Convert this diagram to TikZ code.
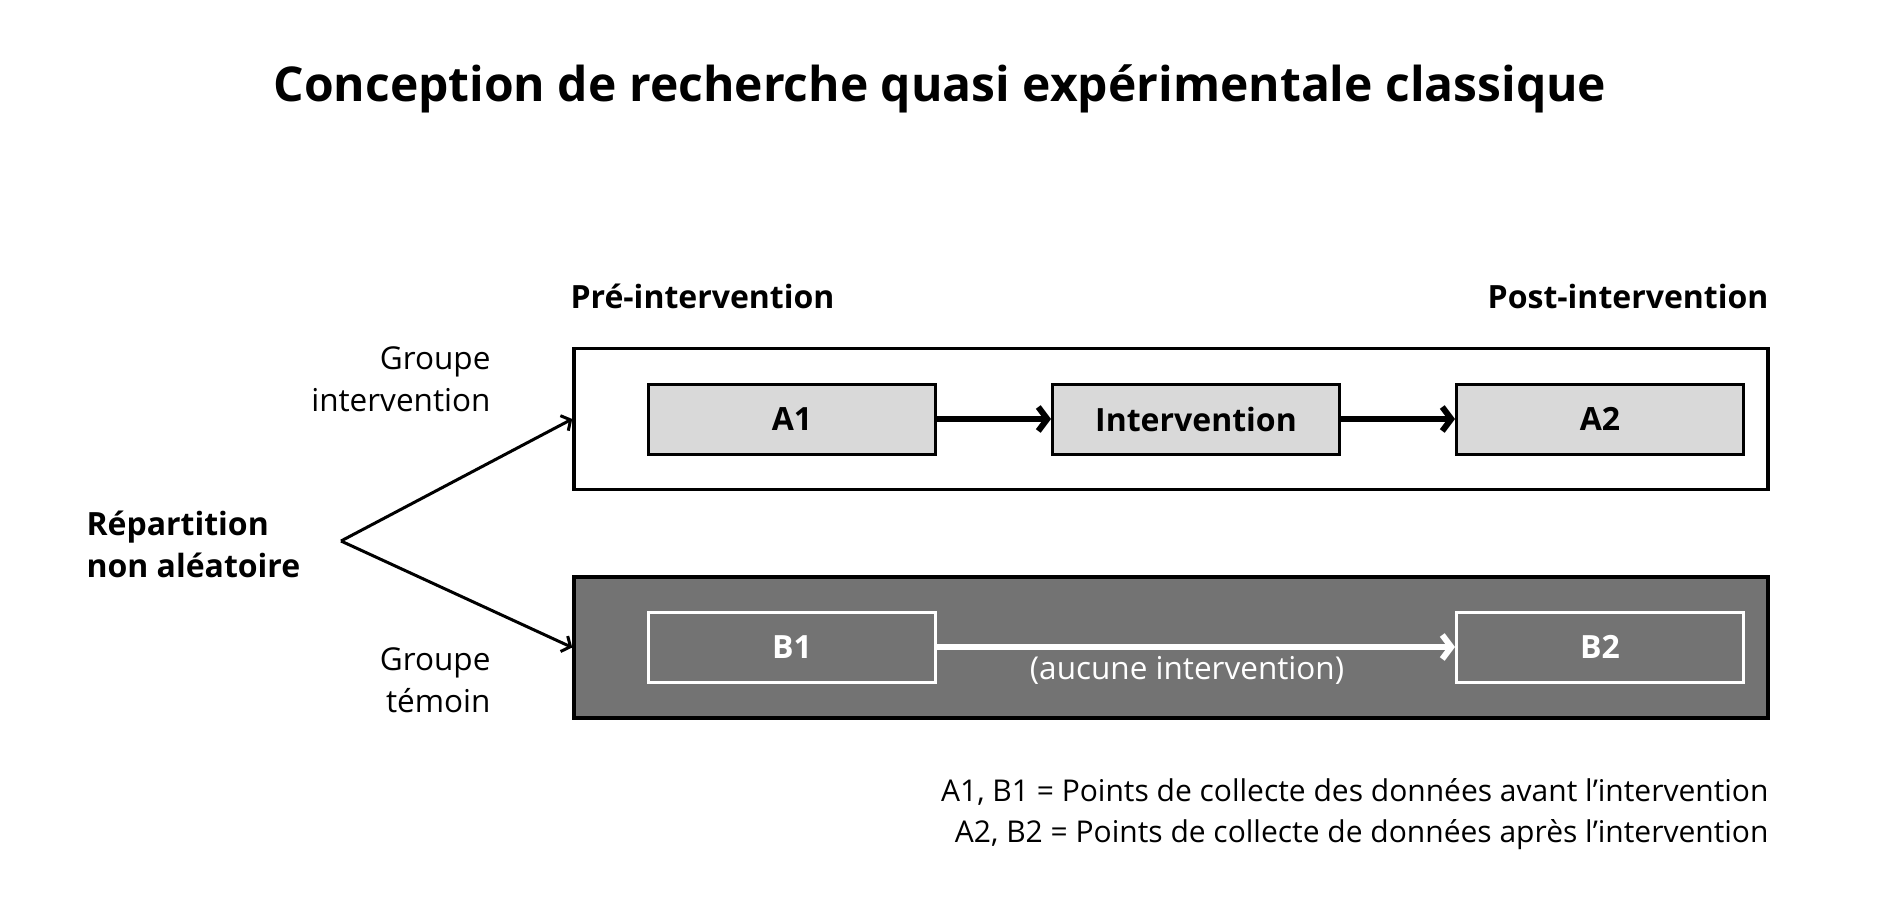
\documentclass[tikz,border=0pt]{standalone}
\usepackage{fontspec}
\setmainfont{Open Sans}
\usetikzlibrary{arrows.meta}
\usetikzlibrary{positioning}

\begin{document}
\begin{tikzpicture}[
    x=1pt, y=-1pt,
    every node/.style={color=black, font=\fontsize{31.5}{42}\selectfont},
    group box/.style={draw, line width=3.5pt, minimum width=1194pt, minimum height=141pt},
    data box/.style={draw, line width=3pt, minimum width=287pt, minimum height=70pt, font=\fontsize{32}{42}\selectfont\bfseries},
    big arrow/.style={line width=6pt, -{Straight Barb[length=9pt, width=24pt]}},
    split arrow/.style={line width=3pt, -{Straight Barb[length=7pt, width=17pt]}},
    side label/.style={align=right, anchor=east}
    ]

\newcommand{\lightgray}{black!15}
\newcommand{\darkgray}{black!55}

\useasboundingbox (0,0) rectangle (1878,905);

% title
\node[font=\fontsize{48}{56}\selectfont\bfseries] (title) at (940,89)
    {Conception de recherche quasi expérimentale classique};

% phases
\node[anchor=west, font=\fontsize{32}{42}\selectfont\bfseries] (pre) at (567,296) {Pré-intervention};
\node[anchor=east, font=\fontsize{32}{42}\selectfont\bfseries] (post) at (1772,296) {Post-intervention};

% group boxes
\node[group box, fill=white] (grpI) at (1171,419) {};
\node[group box, fill=\darkgray] (grpT) at (1171,647.5) {};

% intervention group
\node[data box, fill=\lightgray] (A1) at (792,419) {A1};
\node[data box, fill=\lightgray] (int) at (1196,419) {Intervention};
\node[data box, fill=\lightgray] (A2) at (1600,419) {A2};
\draw[big arrow] (A1) -- (int);
\draw[big arrow] (int) -- (A2);

% control group
\node[data box, draw=white, text=white] (B1) at (792,647) {B1};
\node[data box, draw=white, text=white] (B2) at (1600,647) {B2};
\draw[big arrow, white] (B1) -- (B2)
    node[midway, below=3pt, xshift=-9pt, text=white] (none) {(aucune intervention)};

% group labels
\node[side label] (lblI) at (494,379) {Groupe\\intervention};
\node[side label] (lblT) at (494,680) {Groupe\\témoin};

% assignment
\node[anchor=west, align=left, font=\fontsize{32}{42}\selectfont\bfseries] (rep) at (83,544)
    {Répartition\\non aléatoire};
\coordinate (split) at (341,541);
\draw[split arrow] (split) -- (grpI.west);
\draw[split arrow] (split) -- (grpT.west);

% legend
\node[side label, font=\fontsize{30}{41.5}\selectfont] (legend) at (1772,814)
    {A1, B1 = Points de collecte des données avant l’intervention\\
     A2, B2 = Points de collecte de données après l’intervention};

\end{tikzpicture}
\end{document}
